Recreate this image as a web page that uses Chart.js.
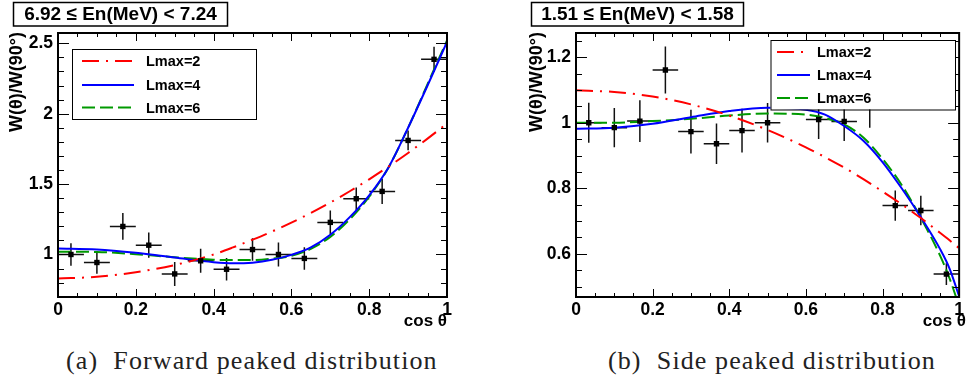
<!DOCTYPE html>
<html>
<head>
<meta charset="utf-8">
<script src="https://cdn.jsdelivr.net/npm/chart.js@4.4.1/dist/chart.umd.min.js"></script>
<style>
  body { margin: 0; background: #fff; width: 967px; height: 381px; position: relative; overflow: hidden; }
  canvas { position: absolute; top: 0; }
  #chartA { left: 0; }
  #chartB { left: 480px; }
  .cap { position: absolute; top: 348px; font-family: "Liberation Serif", serif; font-size: 26px; line-height: 26px; letter-spacing: 1.1px; color: #222; white-space: nowrap; }
</style>
</head>
<body>
<canvas id="chartA" width="480" height="330"></canvas>
<canvas id="chartB" width="487" height="330"></canvas>
<div class="cap" style="left:66px">(a)&nbsp; Forward peaked distribution</div>
<div class="cap" style="left:608px">(b)&nbsp; Side peaked distribution</div>

<script>
// bin centres in cos(theta), 15 bins of width 1/15
const cosTheta = [0.0333, 0.1, 0.1667, 0.2333, 0.3, 0.3667, 0.4333, 0.5, 0.5667, 0.6333, 0.7, 0.7667, 0.8333, 0.9, 0.9667];
const binHalf = 0.0333;

// (a) 6.92 <= En < 7.24
const wForward   = [1.00, 0.943, 1.199, 1.066, 0.862, 0.955, 0.895, 1.035, 1.00, 0.972, 1.228, 1.396, 1.448, 1.81, 2.386];
const errForward = [0.08, 0.08, 0.095, 0.09, 0.085, 0.085, 0.08, 0.08, 0.085, 0.08, 0.085, 0.08, 0.09, 0.07, 0.09];

// (b) 1.51 <= En < 1.58
const wSide   = [1.00, 0.985, 1.005, 1.161, 0.973, 0.936, 0.976, 1.00, 1.13, 1.01, 1.004, 1.05, 0.747, 0.732, 0.538];
const errSide = [0.061, 0.06, 0.064, 0.072, 0.067, 0.062, 0.067, 0.06, 0.065, 0.06, 0.06, 0.065, 0.046, 0.045, 0.033];

// Legendre fits
const fitXForward  = [0, 0.1, 0.2, 0.3, 0.4, 0.45, 0.5, 0.55, 0.6, 0.65, 0.7, 0.75, 0.8, 0.85, 0.9, 0.95, 1.0];
const lmax2Forward = [0.83, 0.841, 0.874, 0.925, 1.0, 1.05, 1.105, 1.163, 1.226, 1.295, 1.369, 1.449, 1.534, 1.625, 1.721, 1.823, 1.93];
const lmax4Forward = [1.043, 1.036, 1.012, 0.978, 0.945, 0.937, 0.942, 0.962, 0.997, 1.05, 1.14, 1.265, 1.42, 1.62, 1.9, 2.2, 2.51];
const lmax6Forward = [1.02, 1.018, 1.002, 0.98, 0.963, 0.96, 0.96, 0.97, 0.99, 1.04, 1.125, 1.25, 1.41, 1.62, 1.9, 2.21, 2.52];

const fitXSide  = [0, 0.1, 0.2, 0.3, 0.4, 0.5, 0.6, 0.65, 0.7, 0.75, 0.8, 0.85, 0.9, 0.95, 0.975, 1.0];
const lmax2Side = [1.099, 1.094, 1.08, 1.056, 1.022, 0.978, 0.925, 0.895, 0.863, 0.828, 0.79, 0.751, 0.709, 0.664, 0.641, 0.617];
const lmax4Side = [0.982, 0.985, 0.997, 1.017, 1.036, 1.046, 1.04, 1.025, 0.99, 0.945, 0.88, 0.80, 0.712, 0.615, 0.555, 0.47];
const lmax6Side = [1.0, 1.0, 1.005, 1.012, 1.022, 1.028, 1.025, 1.015, 0.995, 0.955, 0.89, 0.81, 0.71, 0.595, 0.525, 0.44];

const seriesNames = ['Lmax=2', 'Lmax=4', 'Lmax=6'];
const seriesColors = ['#ff0000', '#0000ff', '#009900'];
const seriesDash = [[17, 7, 2, 7], [], [13, 5]];

const xTicks = [0, 0.2, 0.4, 0.6, 0.8, 1];
const yTicksForward = [1, 1.5, 2, 2.5];
const yTicksSide = [0.6, 0.8, 1, 1.2];

const SANS = "'Liberation Sans', Arial, sans-serif";

// ROOT-like frame: inward ticks on all sides, error bars, legend, title box, axis titles
const rootFrame = {
  id: 'rootFrame',
  beforeDatasetsDraw(chart, args, o) {
    const ctx = chart.ctx, xs = chart.scales.x, ys = chart.scales.y, a = chart.chartArea;
    ctx.save();
    ctx.beginPath();
    ctx.rect(a.left, a.top, a.right - a.left, a.bottom - a.top);
    ctx.clip();
    ctx.strokeStyle = '#111';
    ctx.lineWidth = 1.5;
    cosTheta.forEach((c, i) => {
      const px = xs.getPixelForValue(c), py = ys.getPixelForValue(o.w[i]);
      ctx.beginPath();
      ctx.moveTo(xs.getPixelForValue(c - binHalf), py);
      ctx.lineTo(xs.getPixelForValue(c + binHalf), py);
      ctx.moveTo(px, ys.getPixelForValue(o.w[i] - o.err[i]));
      ctx.lineTo(px, ys.getPixelForValue(o.w[i] + o.err[i]));
      ctx.stroke();
    });
    ctx.restore();
  },
  afterDraw(chart, args, o) {
    const ctx = chart.ctx, xs = chart.scales.x, ys = chart.scales.y, a = chart.chartArea;
    ctx.save();
    ctx.strokeStyle = '#000';
    ctx.lineWidth = 1;
    // x ticks, bottom and top
    const nx = Math.round(1 / 0.05);
    for (let i = 0; i <= nx; i++) {
      const v = i * 0.05;
      const len = (i % 4 === 0) ? 8 : 4;
      const p = Math.round(xs.getPixelForValue(v)) + 0.5;
      ctx.beginPath();
      ctx.moveTo(p, a.bottom); ctx.lineTo(p, a.bottom - len);
      ctx.moveTo(p, a.top); ctx.lineTo(p, a.top + len);
      ctx.stroke();
    }
    // y ticks, left and right
    const i0 = Math.ceil(ys.min / o.yMinor - 1e-6), i1 = Math.floor(ys.max / o.yMinor + 1e-6);
    for (let i = i0; i <= i1; i++) {
      const v = i * o.yMinor;
      const major = Math.abs(v / o.yMajor - Math.round(v / o.yMajor)) < 1e-6;
      const len = major ? 11 : 6;
      const p = Math.round(ys.getPixelForValue(v)) + 0.5;
      ctx.beginPath();
      ctx.moveTo(a.left, p); ctx.lineTo(a.left + len, p);
      ctx.moveTo(a.right, p); ctx.lineTo(a.right - len, p);
      ctx.stroke();
    }
    // frame
    ctx.lineWidth = 2;
    ctx.strokeRect(a.left, a.top, a.right - a.left, a.bottom - a.top);

    // legend
    const L = o.legend;
    ctx.fillStyle = '#fff';
    ctx.fillRect(L.x, L.y, L.w, L.h);
    ctx.lineWidth = 1;
    ctx.strokeRect(L.x + 0.5, L.y + 0.5, L.w, L.h);
    ctx.font = 'bold 14.5px ' + SANS;
    ctx.textBaseline = 'middle';
    ctx.textAlign = 'left';
    seriesNames.forEach((name, i) => {
      const y = L.rows[i];
      ctx.strokeStyle = seriesColors[i];
      ctx.lineWidth = 2;
      ctx.setLineDash(seriesDash[i]);
      ctx.beginPath();
      ctx.moveTo(L.lx0, y); ctx.lineTo(L.lx1, y);
      ctx.stroke();
      ctx.setLineDash([]);
      ctx.fillStyle = '#000';
      ctx.fillText(name, L.tx, y + 1);
    });

    // title box
    const T = o.titleBox;
    ctx.fillStyle = '#fff';
    ctx.fillRect(T.x, T.y, T.w, T.h);
    ctx.strokeStyle = '#000';
    ctx.lineWidth = 1.5;
    ctx.strokeRect(T.x, T.y, T.w, T.h);
    ctx.fillStyle = '#000';
    ctx.font = 'bold 19px ' + SANS;
    ctx.textAlign = 'center';
    ctx.fillText(o.title, T.x + T.w / 2, T.y + T.h / 2 + 1);

    // y axis title
    ctx.save();
    ctx.translate(o.yTitleX, a.top - 1);
    ctx.rotate(-Math.PI / 2);
    ctx.font = 'bold 18px ' + SANS;
    ctx.textAlign = 'right';
    ctx.textBaseline = 'middle';
    ctx.fillText('W(θ)/W(90°)', 0, 0);
    ctx.restore();

    // x axis title
    ctx.font = 'bold 17px ' + SANS;
    ctx.textAlign = 'right';
    ctx.textBaseline = 'alphabetic';
    ctx.fillText('cos θ', o.xTitleRight, 326);
    ctx.restore();
  }
};

function makeChart(id, c) {
  const curve = ys => c.fitX.map((x, i) => ({ x: x, y: ys[i] }));
  const datasets = [{
    label: 'data',
    data: cosTheta.map((x, i) => ({ x: x, y: c.w[i] })),
    showLine: false,
    pointStyle: 'rect',
    pointRadius: 3.8,
    pointHoverRadius: 3.8,
    backgroundColor: '#000',
    borderColor: '#000',
    borderWidth: 0
  }];
  c.fits.forEach((ys, i) => datasets.push({
    label: seriesNames[i],
    data: curve(ys),
    showLine: true,
    pointRadius: 0,
    borderColor: seriesColors[i],
    borderWidth: 2,
    borderDash: seriesDash[i],
    cubicInterpolationMode: 'monotone'
  }));
  const tickFont = { family: SANS, size: 17.5, weight: 'bold' };
  const fmt = v => String(Math.round(v * 100) / 100);
  return new Chart(document.getElementById(id), {
    type: 'scatter',
    data: { datasets: datasets },
    options: {
      responsive: false,
      animation: false,
      devicePixelRatio: 1,
      events: [],
      layout: { padding: { top: 33, right: c.padRight, left: 0, bottom: 0 } },
      plugins: {
        legend: { display: false },
        tooltip: { enabled: false },
        rootFrame: c
      },
      scales: {
        x: {
          type: 'linear', min: 0, max: 1,
          grid: { display: false, drawTicks: false },
          border: { display: false },
          afterBuildTicks: s => { s.ticks = xTicks.map(v => ({ value: v })); },
          afterFit: s => { s.height = 33; },
          ticks: { autoSkip: false, maxRotation: 0, padding: 3, color: '#000', font: tickFont, callback: fmt }
        },
        y: {
          type: 'linear', min: c.yMin, max: c.yMax,
          grid: { display: false, drawTicks: false },
          border: { display: false },
          afterBuildTicks: s => { s.ticks = c.yTicks.map(v => ({ value: v })); },
          afterFit: s => { s.width = c.left; },
          ticks: { autoSkip: false, padding: 5, color: '#000', font: tickFont, callback: fmt }
        }
      }
    },
    plugins: [rootFrame]
  });
}

makeChart('chartA', {
  w: wForward, err: errForward,
  fitX: fitXForward, fits: [lmax2Forward, lmax4Forward, lmax6Forward],
  yMin: 0.698, yMax: 2.573, yTicks: yTicksForward, yMajor: 0.5, yMinor: 0.1,
  left: 58, padRight: 33,
  title: '6.92 ≤ En(MeV) < 7.24',
  titleBox: { x: 13.5, y: 2.5, w: 214, h: 23.5 },
  legend: { x: 72, y: 49, w: 184, h: 70, rows: [61, 85, 107.5], lx0: 82, lx1: 134, tx: 146 },
  yTitleX: 17.5, xTitleRight: 447
});

makeChart('chartB', {
  w: wSide, err: errSide,
  fitX: fitXSide, fits: [lmax2Side, lmax4Side, lmax6Side],
  yMin: 0.468, yMax: 1.274, yTicks: yTicksSide, yMajor: 0.2, yMinor: 0.05,
  left: 96, padRight: 3,
  title: '1.51 ≤ En(MeV) < 1.58',
  titleBox: { x: 51.5, y: 2.5, w: 212, h: 23.5 },
  legend: { x: 290.5, y: 40, w: 184.5, h: 69.5, rows: [52, 75, 98], lx0: 297, lx1: 330, tx: 337 },
  yTitleX: 57.5, xTitleRight: 486
});
</script>
</body>
</html>
